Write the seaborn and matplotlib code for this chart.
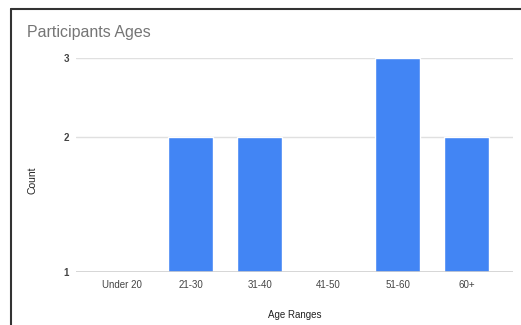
import matplotlib
matplotlib.use("Agg")
import matplotlib.pyplot as plt
from matplotlib.lines import Line2D
import seaborn as sns
import pandas as pd

categories = ["Under 20", "21-30", "31-40", "41-50", "51-60", "60+"]
counts = [1, 2, 2, 1, 3, 2]
y_ticks = [1, 2, 3]

sns.set_theme(style="white")
plt.rcParams["font.family"] = ["Liberation Sans", "DejaVu Sans"]

df = pd.DataFrame({"Age Ranges": categories, "Count": counts})

W, H = 521, 325
fig = plt.figure(figsize=(W / 100, H / 100), dpi=100)
ax = fig.add_axes([76 / W, 53 / H, (513 - 76) / W, (272 - 58) / H])

sns.barplot(data=df, x="Age Ranges", y="Count", color="#4285F4", width=0.65,
            saturation=1, ax=ax, order=categories)
ax.set_yscale("log")
ax.set_ylim(1, 3)
ax.set_xlim(-0.66, 5.67)
ax.set_yticks(y_ticks)
ax.yaxis.set_minor_locator(matplotlib.ticker.NullLocator())

for t in y_ticks[1:]:
    ax.axhline(t, color="#e0e0e0", lw=1, zorder=0)
ax.axhline(1, color="#cfcfcf", lw=1.2, zorder=3)

for s in ax.spines.values():
    s.set_visible(False)
ax.tick_params(axis="both", length=0, labelsize=7, labelcolor="#444444")
ax.tick_params(axis="y", pad=5)
ax.tick_params(axis="x", pad=6)
ax.set_yticklabels([str(t) for t in y_ticks], fontweight="bold", fontsize=7,
                   color="#444444")

ax.set_xlabel("Age Ranges", fontsize=7, color="#222222", labelpad=14)
ax.set_ylabel("Count", fontsize=7.5, color="#222222")
ax.yaxis.set_label_coords(-0.088, 0.43)

fig.text(27 / W, 1 - 33 / H, "Participants Ages", fontsize=11.5, color="#757575",
         va="center", ha="left")

fig.add_artist(Line2D([11 / W, 1], [1 - 9 / H, 1 - 9 / H], color="#333333", lw=1.5,
                      transform=fig.transFigure))
fig.add_artist(Line2D([11 / W, 11 / W], [0, 1 - 9 / H], color="#333333", lw=1.5,
                      transform=fig.transFigure))

fig.savefig("out.png", dpi=100)
